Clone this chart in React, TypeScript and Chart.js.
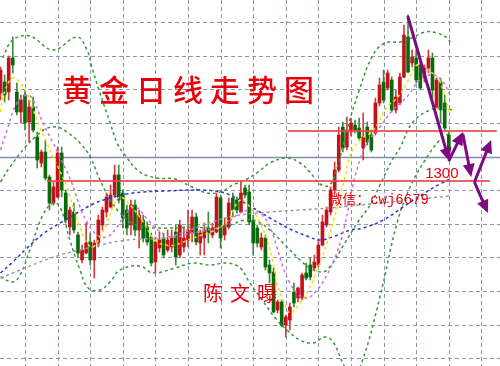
import { useEffect, useRef } from "react";
import { Chart, registerables } from "chart.js";

Chart.register(...registerables);

// Daily gold candles (index = trading day)
const OPEN = [
  1344, 1349.5, 1344.5, 1361.5, 1344.5, 1334.5, 1343, 1329.5, 1337, 1322,
  1309, 1314.5, 1302, 1289, 1292, 1314, 1294, 1277, 1284.5, 1273,
  1260.5, 1264, 1269.5, 1260.5, 1269, 1278, 1284.5, 1287, 1293, 1303,
  1294, 1285.5, 1278, 1288, 1275.5, 1280.5, 1277, 1272, 1259.5, 1266.5,
  1271.5, 1265.5, 1267, 1274.5, 1263, 1267, 1270.5, 1274, 1282, 1269,
  1271.5, 1276.5, 1273, 1274.5, 1291.5, 1273, 1277, 1291.5, 1290.5, 1284.5,
  1296.5, 1294.5, 1280.5, 1276.5, 1267, 1271.5, 1258, 1254.5, 1235.5, 1239.5,
  1228, 1230.5, 1244.5, 1241.5, 1241.5, 1254, 1258, 1256.5, 1258, 1268,
  1278, 1284.5, 1295.5, 1305.5, 1327, 1317, 1324.5, 1328, 1326.5, 1316.5,
  1327, 1323, 1324, 1339, 1349.5, 1346.5, 1350.5, 1335.5, 1339, 1352,
  1372, 1359, 1361.5, 1358, 1351.5, 1356.5, 1361.5, 1337, 1349.5, 1339,
  1323,
];
const HIGH = [
  1357, 1353, 1362.5, 1372, 1349, 1343, 1345.5, 1340.5, 1342, 1324.5,
  1315.5, 1320.5, 1303, 1299.5, 1317, 1317, 1295.5, 1287, 1289, 1274.5,
  1268, 1279, 1274, 1270.5, 1283, 1287, 1294, 1298, 1308, 1308,
  1295.5, 1288, 1290.5, 1290.5, 1285.5, 1283, 1279.5, 1274, 1272, 1274.5,
  1274, 1275.5, 1275.5, 1278, 1280.5, 1277, 1285.5, 1285.5, 1284, 1275.5,
  1279, 1284.5, 1279, 1294, 1293, 1281.5, 1291.5, 1294, 1292, 1299.5,
  1298, 1298, 1283, 1278, 1274, 1273, 1260.5, 1256.5, 1240.5, 1240.5,
  1233, 1239, 1249, 1247, 1254, 1259, 1261.5, 1263, 1270.5, 1283,
  1287, 1297, 1309.5, 1327, 1329.5, 1332, 1331.5, 1330.5, 1331.5, 1334,
  1329.5, 1325.5, 1341.5, 1351.5, 1355.5, 1355.5, 1352, 1345.5, 1354, 1378,
  1383, 1365.5, 1365.5, 1359.5, 1358, 1365.5, 1364, 1351.5, 1351.5, 1343,
  1324.5,
];
const LOW = [
  1340.5, 1339.5, 1340.5, 1354, 1333, 1329, 1325.5, 1319.5, 1324.5, 1306.5,
  1307, 1300.5, 1285.5, 1288, 1291.5, 1292, 1279, 1273, 1274, 1262,
  1259, 1263.5, 1258, 1251.5, 1267, 1275.5, 1282, 1286.5, 1292, 1289,
  1276.5, 1273, 1273, 1272.5, 1266.5, 1269.5, 1268, 1257.5, 1254.5, 1264.5,
  1261.5, 1264.5, 1264.5, 1258, 1261.5, 1264.5, 1267, 1269.5, 1268, 1263,
  1263, 1269, 1271.5, 1274, 1266.5, 1270.5, 1276, 1282, 1284, 1284,
  1291.5, 1278, 1263, 1267, 1265.5, 1255.5, 1249, 1234, 1234, 1227,
  1222, 1225.5, 1237, 1239.5, 1240.5, 1250.5, 1250.5, 1255.5, 1257, 1267.5,
  1277, 1283, 1294, 1304.5, 1314.5, 1315.5, 1322.5, 1324, 1320.5, 1310.5,
  1318, 1314.5, 1323, 1337.5, 1339, 1345.5, 1334.5, 1334, 1338, 1351.5,
  1354, 1357, 1349, 1345.5, 1349.5, 1354, 1341.5, 1336.5, 1329, 1325.5,
  1314,
];
const CLOSE = [
  1355.5, 1343, 1361.5, 1358, 1334.5, 1340.5, 1329, 1337, 1325.5, 1310.5,
  1314.5, 1301.5, 1289, 1297, 1314, 1295.5, 1280.5, 1285.5, 1275.5, 1264,
  1265.5, 1269, 1260.5, 1269, 1280.5, 1285.5, 1292, 1293, 1303, 1290.5,
  1281.5, 1276.5, 1288, 1275.5, 1283, 1271.5, 1269.5, 1259, 1269.5, 1270.5,
  1263, 1270.5, 1271.5, 1262, 1278, 1271.5, 1275.5, 1282, 1269.5, 1274,
  1275.5, 1274, 1276.5, 1292, 1271.5, 1278, 1289, 1285.5, 1285.5, 1294,
  1293, 1279.5, 1269, 1269, 1271.5, 1257, 1254, 1234.5, 1239.5, 1228,
  1232, 1237, 1239, 1246.5, 1253, 1251.5, 1252, 1259.5, 1268, 1279.5,
  1285.5, 1295.5, 1305.5, 1323, 1316.5, 1325.5, 1329, 1325.5, 1321.5, 1322,
  1319.5, 1315.5, 1339, 1348, 1340.5, 1354, 1335.5, 1342, 1352, 1373,
  1354.5, 1362, 1350.5, 1346.5, 1356.5, 1361.5, 1345.5, 1350.5, 1335.5, 1326.5,
  1315.5,
];

// Bollinger bands: [day index, price]
const BOLL_UPPER: [number, number][] = [
  [0.5, 1361.5], [3, 1370.5], [7.2, 1372.5], [12.9, 1365.5], [18.8, 1372],
  [21.2, 1365.5], [22.4, 1357], [24.4, 1344], [26.9, 1329], [28.6, 1319],
  [30.5, 1313], [34.2, 1304.5], [38.4, 1301.5], [42.8, 1301], [46.5, 1297.5],
  [50.7, 1294], [53.9, 1294.5], [57, 1298], [60, 1300.5], [63.2, 1304.5],
  [66.1, 1309], [70.3, 1311.5], [73.5, 1309], [75.9, 1304.5], [78.4, 1298.5],
  [80.8, 1298], [82.8, 1308], [85, 1325.5], [88.2, 1346.5], [91.4, 1363],
  [94.3, 1369], [98, 1369.5], [101, 1371.5], [104.2, 1374.5], [107.1, 1374],
  [109.6, 1371.5], [110.6, 1368.5],
];
const BOLL_MID: [number, number][] = [
  [0, 1299.5], [2.3, 1307], [6.1, 1317], [8.5, 1322], [11, 1326],
  [13.8, 1327], [16.3, 1324.5], [19.5, 1319], [22, 1312], [24.4, 1300.5],
  [26.9, 1290.5], [29.3, 1284], [31.8, 1279.5], [35, 1277], [38.4, 1276.5],
  [42.8, 1276.5], [47.2, 1277], [51.4, 1276.5], [56.3, 1278], [60, 1280.5],
  [63.2, 1279.5], [66.1, 1275.5], [69.8, 1268], [73.5, 1260.5], [75.9, 1256.5],
  [78.9, 1254.5], [80.8, 1257], [84.5, 1269], [87.7, 1279.5], [90.7, 1288],
  [93.1, 1298], [96.1, 1310.5], [98, 1316.5], [101.2, 1329.5], [105.4, 1335.5],
  [109.1, 1336.5], [110.8, 1335.5],
];
const BOLL_LOWER: [number, number][] = [
  [0, 1252], [3, 1249.5], [4.8, 1253], [7.2, 1265.5], [10.4, 1283],
  [12.9, 1289], [14.6, 1287], [17, 1270.5], [19.5, 1255.5], [21.5, 1246.5],
  [24.4, 1245.5], [26.9, 1249.5], [29.3, 1255.5], [34.2, 1257.5], [37.4, 1254],
  [42.8, 1256.5], [47.2, 1259], [51.4, 1258], [55.6, 1259], [58.8, 1256.5],
  [61.2, 1249], [64.2, 1240.5], [67.4, 1231.5], [70.3, 1225.5], [73.5, 1220.5],
  [76.7, 1219], [79.6, 1222], [81.6, 1219.5], [84, 1209], [86.2, 1201.5],
  [88.7, 1209.5], [93.1, 1242], [97.3, 1279], [100.5, 1297], [104.2, 1310.5],
  [107.8, 1320.5], [110.8, 1324.5],
];

// Moving averages: [day index, price]
const MA_FAST: [number, number][] = [
  [0, 1334.5], [0.6, 1342], [2.3, 1350.5], [3.5, 1351.5], [4.8, 1349],
  [6.5, 1344], [8, 1335.5], [9.7, 1326.5], [11.4, 1319], [12.9, 1312],
  [14.1, 1307], [16.3, 1297], [17.8, 1287], [19.5, 1277], [21.2, 1269],
  [22.7, 1267], [24.4, 1272], [26.1, 1279], [27.6, 1287], [29.3, 1292],
  [31.3, 1289], [34.7, 1280.5], [37.9, 1270.5], [40.4, 1268], [42.8, 1268],
  [46, 1270.5], [49.4, 1273], [52.6, 1275.5], [55.8, 1280.5], [58.8, 1290.5],
  [61.2, 1287], [63.7, 1279], [65.4, 1270.5], [66.9, 1259], [67.8, 1249],
  [69.3, 1240.5], [71, 1234], [72.7, 1237], [75.2, 1244], [76.7, 1250.5],
  [78.4, 1259], [80.1, 1269], [81.6, 1279], [83.3, 1293], [84.5, 1301.5],
  [85.8, 1313], [88.2, 1320.5], [90.7, 1324], [92.4, 1328], [94.8, 1337],
  [97.3, 1341.5], [99.7, 1349], [102.2, 1358], [104.6, 1355.5], [107.1, 1352],
  [108.6, 1345.5], [110.3, 1333],
];
const MA_MID: [number, number][] = [
  [0, 1315.5], [1.6, 1325.5], [4, 1339], [6.5, 1343], [8, 1340.5],
  [10.4, 1329], [12.9, 1319], [15.3, 1309], [17.5, 1299], [19.5, 1287],
  [21.2, 1279.5], [23.7, 1273], [26.1, 1272], [28.6, 1277], [30.5, 1283],
  [33, 1287], [36.2, 1280.5], [38.6, 1275.5], [42, 1272], [47, 1274],
  [50.9, 1275.5], [55.1, 1278], [58, 1283], [61.2, 1285.5], [63.7, 1284],
  [66.1, 1277], [67.8, 1267], [69.3, 1257], [71, 1249], [72.7, 1244],
  [75.2, 1241.5], [77.7, 1245.5], [80.1, 1253], [82.6, 1264.5], [84.5, 1278],
  [86.5, 1298], [88.2, 1310.5], [89.9, 1319], [93.1, 1327], [96.3, 1335.5],
  [99.7, 1342], [102.9, 1350.5], [106.1, 1353], [108.6, 1349.5], [110.3, 1343],
];
const MA_LONG: [number, number][] = [
  [0, 1254], [3, 1259.5], [6.5, 1266.5], [10.4, 1273.5], [14.6, 1279],
  [18.8, 1284], [22.7, 1288.5], [26.9, 1291.5], [31, 1293.5], [35, 1294.5],
  [40.8, 1295], [47.2, 1295.5], [52.6, 1295], [56.3, 1293], [61.2, 1287.5],
  [66.1, 1281.5], [71, 1276], [75.2, 1272.5], [78.4, 1270.5], [82.1, 1272.5],
  [85.8, 1275.5], [89, 1276.5], [93.9, 1280.5], [98.8, 1287], [103.7, 1293.5],
  [107.8, 1298.5], [110.8, 1301.5],
];
const MA_SLOW: [number, number][] = [
  [0, 1251.5], [4.8, 1255.5], [9.7, 1259.5], [14.6, 1263], [19.5, 1265.5],
  [24.4, 1268], [29.3, 1270], [34.2, 1271], [40.4, 1271.5], [46.5, 1275.5],
  [52.6, 1280], [58.8, 1283], [66.1, 1284.5], [73.5, 1285.5], [80.8, 1286.5],
  [90.7, 1288.5], [100.5, 1290.5], [110.3, 1292.5],
];

// Key price levels: [price, from day, to day]
const LEVELS: [number, number, number][] = [
  [1300, 11.4, 120.1],
  [1325, 70.5, 121.8],
];

// Projected path arrows: [from day, from price, to day, to price]
const TREND_ARROWS: [number, number, number, number][] = [
  [100, 1382, 110.1, 1310],
  [110.1, 1310.5, 113.5, 1324.5],
  [113.5, 1323, 115.5, 1302],
  [116.4, 1300, 120.4, 1320.5],
  [116.4, 1299, 119.6, 1284],
];

// Grid positions
const GRID_DAYS = [6, 14, 22, 30, 38, 46, 54, 62, 70, 78, 86, 94, 102, 110, 118];
const GRID_PRICES = [1379.5, 1362.7, 1345.9, 1329.1, 1312.2, 1295.4, 1278.6, 1261.8, 1245.0, 1228.2, 1211.3];
const BASE_PRICE = 1312.2;

const TITLE = "黄金日线走势图";
const AUTHOR = "陈文曝";
const CONTACT = "微信：cwj6679";
const LEVEL_LABEL = "1300";

const UP_BODY = "#c4121c";
const UP_WICK = "#d23c3c";
const DOWN_BODY = "#086a08";
const DOWN_WICK = "#3a8e3a";

const toPoints = (arr: [number, number][]) => arr.map(([x, y]) => ({ x, y }));

const overlayPlugin = {
  id: "overlay",
  beforeDatasetsDraw(chart: any) {
    const { ctx, chartArea, scales } = chart;
    const xs = scales.x;
    const ys = scales.y;
    ctx.save();
    ctx.strokeStyle = "#8a98ac";
    ctx.lineWidth = 1;
    ctx.setLineDash([4, 3]);
    for (const d of GRID_DAYS) {
      const px = Math.round(xs.getPixelForValue(d)) + 0.5;
      ctx.beginPath();
      ctx.moveTo(px, chartArea.top);
      ctx.lineTo(px, chartArea.bottom);
      ctx.stroke();
    }
    for (const p of GRID_PRICES) {
      const py = Math.round(ys.getPixelForValue(p)) + 0.5;
      if (p === BASE_PRICE) continue;
      ctx.beginPath();
      ctx.moveTo(chartArea.left, py);
      ctx.lineTo(chartArea.right, py);
      ctx.stroke();
    }
    ctx.setLineDash([]);
    ctx.strokeStyle = "#8190a6";
    ctx.lineWidth = 1.5;
    const by = Math.round(ys.getPixelForValue(BASE_PRICE)) + 0.5;
    ctx.beginPath();
    ctx.moveTo(chartArea.left, by);
    ctx.lineTo(chartArea.right, by);
    ctx.stroke();
    ctx.restore();
  },
  afterDatasetsDraw(chart: any) {
    const { ctx, scales } = chart;
    const xs = scales.x;
    const ys = scales.y;
    const X = (v: number) => xs.getPixelForValue(v);
    const Y = (v: number) => ys.getPixelForValue(v);
    ctx.save();

    // price levels
    ctx.strokeStyle = "rgba(234,70,70,0.85)";
    ctx.lineWidth = 2;
    for (const [p, a, b] of LEVELS) {
      const py = Math.round(Y(p));
      ctx.beginPath();
      ctx.moveTo(X(a), py);
      ctx.lineTo(X(b), py);
      ctx.stroke();
    }

    // texts
    ctx.fillStyle = "#e8000b";
    ctx.textBaseline = "middle";
    ctx.textAlign = "left";
    ctx.font = "500 30px 'Noto Sans CJK SC'";
    (ctx as any).letterSpacing = "7px";
    ctx.fillText(TITLE, X(15.1), Y(1345.5));
    ctx.font = "20px 'Noto Sans CJK SC'";
    (ctx as any).letterSpacing = "7px";
    ctx.fillText(AUTHOR, X(49.7), Y(1244));
    ctx.font = "14px 'Liberation Mono', 'Noto Sans CJK SC'";
    (ctx as any).letterSpacing = "0px";
    ctx.fillText(CONTACT, X(80.4), Y(1290.5));
    ctx.textBaseline = "alphabetic";
    ctx.font = "15px 'Liberation Sans', Arial, sans-serif";
    ctx.fillText(LEVEL_LABEL, X(104.2), Y(1301.5));

    // arrows
    ctx.strokeStyle = "#7d0a80";
    ctx.fillStyle = "#7d0a80";
    ctx.lineWidth = 3;
    ctx.lineCap = "round";
    for (const [d0, p0, d1, p1] of TREND_ARROWS) {
      const x0 = X(d0), y0 = Y(p0), x1 = X(d1), y1 = Y(p1);
      const ang = Math.atan2(y1 - y0, x1 - x0);
      const head = 13;
      const half = 6;
      const bx = x1 - head * Math.cos(ang);
      const by = y1 - head * Math.sin(ang);
      ctx.beginPath();
      ctx.moveTo(x0, y0);
      ctx.lineTo(bx, by);
      ctx.stroke();
      ctx.beginPath();
      ctx.moveTo(x1, y1);
      ctx.lineTo(bx + half * Math.sin(ang), by - half * Math.cos(ang));
      ctx.lineTo(bx - half * Math.sin(ang), by + half * Math.cos(ang));
      ctx.closePath();
      ctx.fill();
    }
    ctx.restore();
  },
};

export default function App() {
  const ref = useRef<HTMLCanvasElement>(null);

  useEffect(() => {
    document.body.style.margin = "0";
    const canvas = ref.current;
    if (!canvas) return;

    const days = OPEN.map((_, i) => i);
    const up = days.map((i) => CLOSE[i] >= OPEN[i]);

    const line = (label: string, pts: [number, number][], color: string, dash: number[], width: number) => ({
      type: "line" as const,
      label,
      data: toPoints(pts),
      borderColor: color,
      borderWidth: width,
      borderDash: dash,
      pointRadius: 0,
      tension: 0.4,
      fill: false,
      order: 0,
    });

    const chart = new Chart(canvas, {
      type: "bar",
      data: {
        datasets: [
          line("MA5", MA_FAST, "#f2e200", [3, 3], 1.5),
          line("MA10", MA_MID, "#cc70e0", [3, 3], 1.5),
          line("MA60", MA_LONG, "#2838d8", [3, 3], 1.5),
          line("MA120", MA_SLOW, "#9a9a9a", [3, 3], 1.5),
          line("BOLL UP", BOLL_UPPER, "#3a963a", [3, 3], 1.5),
          line("BOLL MID", BOLL_MID, "#3a963a", [3, 3], 1.5),
          line("BOLL LOW", BOLL_LOWER, "#3a963a", [3, 3], 1.5),
          {
            type: "bar" as const,
            label: "body",
            data: days.map((i) => ({ x: i, y: [OPEN[i], CLOSE[i]] })) as any,
            backgroundColor: up.map((u) => (u ? UP_BODY : DOWN_BODY)),
            barThickness: 3,
            grouped: false,
            order: 1,
          },
          {
            type: "bar" as const,
            label: "wick",
            data: days.map((i) => ({ x: i, y: [LOW[i], HIGH[i]] })) as any,
            backgroundColor: up.map((u) => (u ? UP_WICK : DOWN_WICK)),
            barThickness: 1,
            grouped: false,
            order: 2,
          },
        ] as any,
      },
      options: {
        responsive: false,
        animation: false,
        devicePixelRatio: 1,
        layout: { padding: 0 },
        plugins: { legend: { display: false }, tooltip: { enabled: false } },
        scales: {
          x: { type: "linear", offset: false, min: -0.135, max: 122.57, display: false },
          y: { type: "linear", min: 1207.5, max: 1390.5, display: false },
        },
      },
      plugins: [overlayPlugin],
    });

    return () => chart.destroy();
  }, []);

  return (
    <canvas
      ref={ref}
      width={500}
      height={366}
      style={{ display: "block", width: 500, height: 366, background: "#ffffff" }}
    />
  );
}
